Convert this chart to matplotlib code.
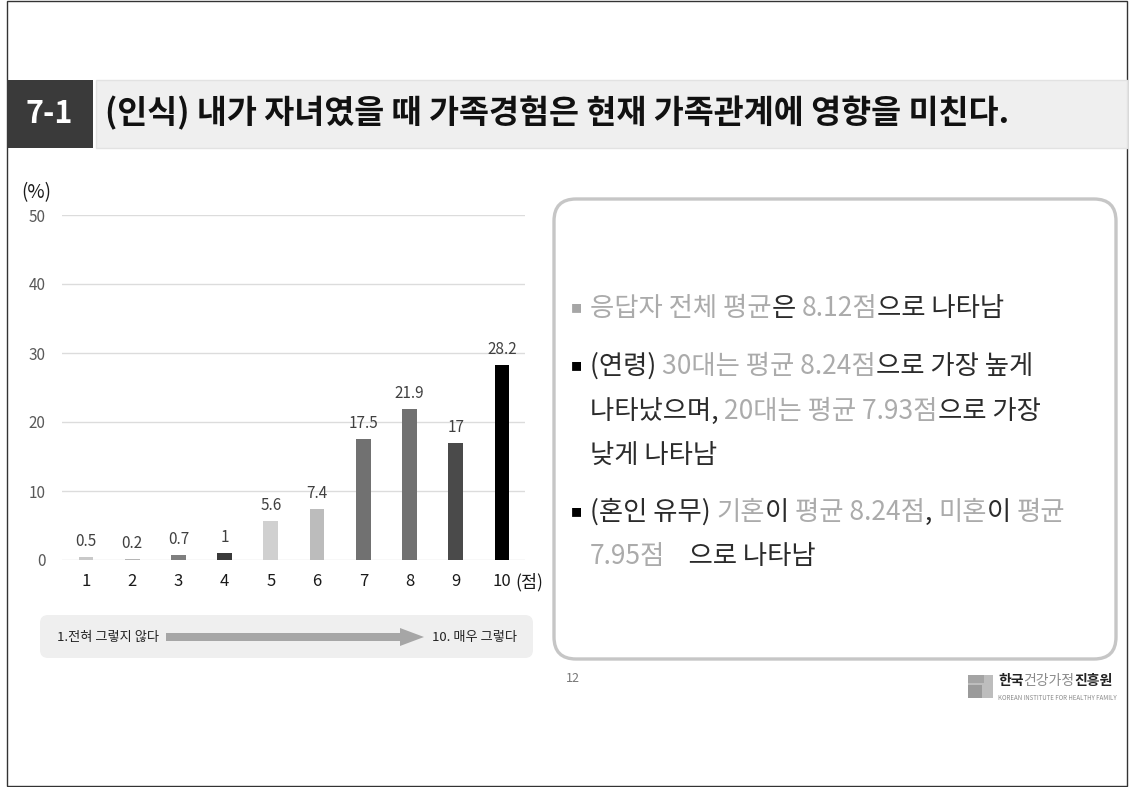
import matplotlib.pyplot as plt
from matplotlib.patches import Rectangle, FancyBboxPatch, FancyArrow

plt.rcParams['font.family'] = ['Noto Sans CJK KR', 'DejaVu Sans']

# 점수별 응답 비율 (%)
scores = ['1', '2', '3', '4', '5', '6', '7', '8', '9', '10']
percents = [0.5, 0.2, 0.7, 1, 5.6, 7.4, 17.5, 21.9, 17, 28.2]
bar_colors = ['#c9c9c9', '#b5b5b5', '#7f7f7f', '#3a3a3a', '#d0d0d0',
              '#bcbcbc', '#717171', '#717171', '#4a4a4a', '#000000']

title = '(인식) 내가 자녀였을 때 가족경험은 현재 가족관계에 영향을 미친다.'
section_no = '7-1'

# 오른쪽 설명 상자: (글자, 색) 조각으로 나눈 줄
GRAY, DARK = '#ababab', '#2b2b2b'
summary_lines = [
    ('#a6a6a6', [('응답자 전체 평균', GRAY), ('은 ', DARK), ('8.12점', GRAY), ('으로 나타남', DARK)]),
    ('#000000', [('(연령) ', DARK), ('30대는 평균 8.24점', GRAY), ('으로 가장 높게', DARK)]),
    (None, [('나타났으며, ', DARK), ('20대는 평균 7.93점', GRAY), ('으로 가장', DARK)]),
    (None, [('낮게 나타남', DARK)]),
    ('#000000', [('(혼인 유무) ', DARK), ('기혼', GRAY), ('이 ', DARK), ('평균 8.24점', GRAY),
                 (', ', DARK), ('미혼', GRAY), ('이 ', DARK), ('평균', GRAY)]),
    (None, [('7.95점', GRAY), ('    으로 나타남', DARK)]),
]
line_y = [308, 366, 411, 455, 512, 557]

W, H = 1129, 787
fig = plt.figure(figsize=(W / 100, H / 100), dpi=100)

# 슬라이드 배경용 좌표계 (픽셀 단위, 위에서 아래로)
bg = fig.add_axes([0, 0, 1, 1])
bg.set_xlim(0, W)
bg.set_ylim(H, 0)
bg.axis('off')

bg.add_patch(Rectangle((7, 0.5), 1120, 785.5, fill=False, ec='#333333', lw=1))

# 제목 띠
bg.add_patch(Rectangle((96, 80), 1031, 68, fc='#efefef', ec='#e2e2e2', lw=1))
bg.add_patch(Rectangle((7, 80), 86, 68, fc='#3a3a3a', ec='none'))
bg.text(49, 114, section_no, color='white', fontsize=22, fontweight='bold',
        ha='center', va='center')
bg.text(105, 113, title, color='#111111', fontsize=23.5, fontweight='bold',
        ha='left', va='center')

# 응답 척도 안내 상자
bg.add_patch(FancyBboxPatch((40, 615), 493, 43, boxstyle='round,pad=0,rounding_size=8',
                            fc='#efefef', ec='none'))
bg.text(57, 637, '1.전혀 그렇지 않다', fontsize=9.5, color='#222222', va='center')
bg.add_patch(FancyArrow(166, 637, 258, 0, width=8, head_width=18, head_length=24,
                        length_includes_head=True, fc='#a6a6a6', ec='none'))
bg.text(432, 637, '10. 매우 그렇다', fontsize=9.5, color='#222222', va='center')

# 설명 상자
bg.add_patch(FancyBboxPatch((554, 199), 562, 460, boxstyle='round,pad=0,rounding_size=22',
                            fc='white', ec='#c6c6c6', lw=2.4))
for (bullet, pieces), y in zip(summary_lines, line_y):
    if bullet:
        bg.text(576, y + 1, '■', color=bullet, fontsize=8, ha='center', va='center')
    prev = bg.text(590, y, pieces[0][0], color=pieces[0][1], fontsize=19,
                   ha='left', va='center')
    for txt, col in pieces[1:]:
        prev = bg.annotate(txt, xy=(1, 0), xycoords=prev, color=col, fontsize=19,
                           ha='left', va='bottom')

bg.text(566, 678, '12', fontsize=9, color='#777777', va='center')

# 기관 로고
bg.add_patch(Rectangle((968, 675), 25, 23, fc='#bdbdbd', ec='none'))
bg.add_patch(Rectangle((968, 675), 16, 8, fc='#a4a4a4', ec='none'))
bg.add_patch(Rectangle((968, 685), 14, 13, fc='#9a9a9a', ec='none'))
logo = bg.text(998, 681, '한국', fontsize=10, fontweight='bold', color='#222222', va='center')
logo = bg.annotate('건강가정', xy=(1, 0), xycoords=logo, fontsize=10, color='#8a8a8a', va='bottom')
bg.annotate('진흥원', xy=(1, 0), xycoords=logo, fontsize=10, fontweight='bold', color='#222222', va='bottom')
bg.text(998, 698, 'KOREAN INSTITUTE FOR HEALTHY FAMILY', fontsize=4.4, color='#8a8a8a', va='center')

# 막대 그래프
ax = fig.add_axes([62 / W, 1 - 560 / H, 463 / W, 345 / H])
ax.patch.set_alpha(0)
x = list(range(1, len(scores) + 1))
bars = ax.bar(x, percents, width=0.32, color=bar_colors, zorder=3)
for b, v in zip(bars, percents):
    ax.annotate(f'{v:g}', (b.get_x() + b.get_width() / 2, v), xytext=(0, 5),
                textcoords='offset points', ha='center', va='bottom',
                fontsize=11, color='#404040')

ax.set_xlim(0.48, 10.5)
ax.set_ylim(0, 50)
ax.set_yticks([0, 10, 20, 30, 40, 50])
ax.set_xticks(x)
ax.set_xticklabels(scores)
ax.grid(axis='y', color='#dcdcdc', lw=1, zorder=0)
for s in ax.spines.values():
    s.set_visible(False)
ax.tick_params(axis='y', length=0, pad=12, labelsize=11, labelcolor='#595959')
ax.tick_params(axis='x', length=0, pad=9, labelsize=12, labelcolor='#1a1a1a')
ax.annotate('(점)', (10, 0), xytext=(10, -9), textcoords='offset points',
            ha='left', va='top', fontsize=12.5, color='#1a1a1a')
bg.text(21, 193, '(%)', fontsize=13.5, color='#1a1a1a', va='center')

fig.savefig('out.png', dpi=100)
